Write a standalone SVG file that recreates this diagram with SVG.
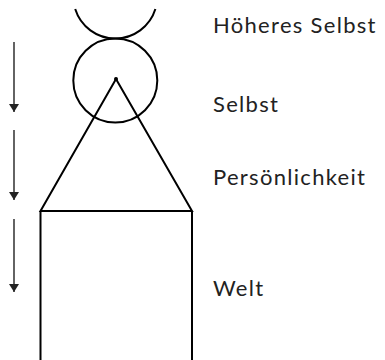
<svg xmlns="http://www.w3.org/2000/svg" width="385" height="360" viewBox="0 0 385 360">
<style>
.shape{fill:none;stroke:#000;stroke-width:2}
.arr{stroke:#222;stroke-width:1.4;fill:none}
.lbl{font-family:Lato,"Open Sans",sans-serif;font-size:22px;fill:#222;letter-spacing:1.3px}
</style>
<defs>
<marker id="ah" viewBox="0 0 8 10" refX="8" refY="5" markerWidth="8" markerHeight="10" markerUnits="userSpaceOnUse" orient="auto">
<path d="M0,0 L8,5 L0,10 Z" fill="#222"/>
</marker>
</defs>
<g id="hoeheres-selbst">
<path class="shape" d="M75.2,9 A42,42 0 0 0 155.4,9"/>
<text class="lbl" x="213" y="33">Höheres Selbst</text>
</g>
<g id="selbst">
<circle class="shape" cx="115.3" cy="80.5" r="42"/>
<circle cx="116" cy="79" r="2" fill="#000"/>
<text class="lbl" x="213" y="112">Selbst</text>
</g>
<g id="persoenlichkeit">
<path class="shape" d="M40.5,211 L116,79 L192,211 Z" stroke-linejoin="miter"/>
<text class="lbl" x="213" y="185">Persönlichkeit</text>
</g>
<g id="welt">
<path class="shape" d="M40.5,211 L40.5,362 M192,211 L192,362"/>
<text class="lbl" x="213" y="296">Welt</text>
</g>
<g id="connectors">
<line class="arr" x1="14" y1="42" x2="14" y2="112" marker-end="url(#ah)"/>
<line class="arr" x1="14" y1="130" x2="14" y2="200" marker-end="url(#ah)"/>
<line class="arr" x1="14" y1="219" x2="14" y2="292" marker-end="url(#ah)"/>
</g>
</svg>
